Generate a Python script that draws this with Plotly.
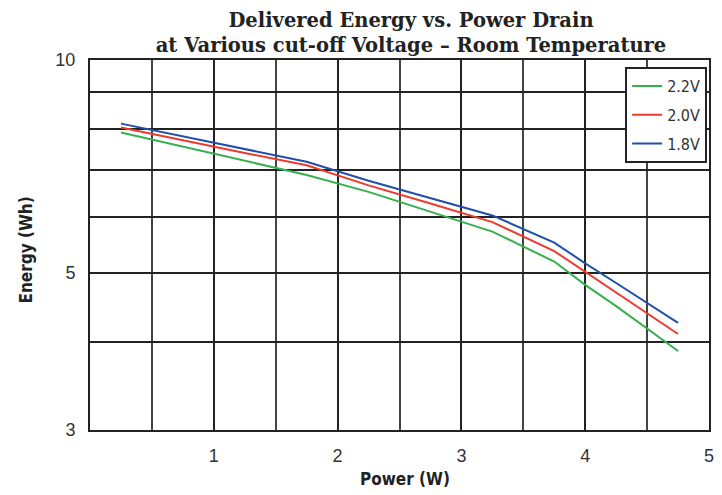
import plotly.graph_objects as go

power_w = [0.25, 0.75, 1.25, 1.75, 2.25, 2.75, 3.25, 3.75, 4.0, 4.25, 4.75]
energy_22v = [7.90, 7.54, 7.20, 6.88, 6.51, 6.11, 5.72, 5.19, 4.81, 4.49, 3.88]
energy_20v = [8.03, 7.70, 7.39, 7.10, 6.65, 6.27, 5.90, 5.37, 5.02, 4.69, 4.10]
energy_18v = [8.13, 7.80, 7.48, 7.18, 6.75, 6.38, 6.03, 5.52, 5.16, 4.84, 4.25]
series_names = ["2.2V", "2.0V", "1.8V"]
series_colors = ["#35b04f", "#ee3a2c", "#1f50a8"]

x_tick_vals = [1, 2, 3, 4, 5]
y_grid_vals = [3, 4, 5, 6, 7, 8, 9, 10]
y_tick_text = ["3", "", "5", "", "", "", "", "10"]

fig = go.Figure()
for name, vals, col in zip(series_names, [energy_22v, energy_20v, energy_18v], series_colors):
    fig.add_trace(go.Scatter(x=power_w, y=vals, mode="lines", name=name,
                             legendgroup=name,
                             line=dict(color=col, width=2)))

narrow = "DejaVu Sans Condensed, Liberation Sans Narrow, Arial Narrow, Liberation Sans, sans-serif"

# page has an 8px body margin, so the figure is 8px smaller and offset
W, H = 714, 487
fig.update_layout(
    width=W, height=H,
    margin=dict(l=82, r=8, t=52, b=65),
    paper_bgcolor="white", plot_bgcolor="white",
    title=dict(text="<b>Delivered Energy vs. Power Drain<br>at Various cut-off Voltage – Room Temperature</b>",
               x=403/W, xanchor="center", xref="container",
               y=1 - 18.5/H, yanchor="middle", yref="container",
               font=dict(family="DejaVu Serif, serif", size=19.5, color="#222"),
               automargin=False),
    showlegend=True,
    legend=dict(x=0.997, xanchor="right", y=0.981, yanchor="top",
                bgcolor="white", bordercolor="#222", borderwidth=2,
                font=dict(family=narrow, size=16, color="#333"),
                traceorder="grouped", tracegroupgap=5),
    xaxis=dict(range=[0, 5], tickmode="array", tickvals=x_tick_vals,
               showgrid=True, gridcolor="#222", gridwidth=2,
               minor=dict(dtick=0.5, showgrid=True, gridcolor="#444", gridwidth=2),
               showline=True, linecolor="#222", linewidth=2, mirror=True,
               ticks="", ticklabelstandoff=8, zeroline=False,
               tickfont=dict(family="Liberation Sans, Arial, sans-serif", size=18, color="#333")),
    yaxis=dict(type="log", range=[0.47712, 1.0], tickmode="array",
               tickvals=y_grid_vals, ticktext=y_tick_text,
               showgrid=True, gridcolor="#222", gridwidth=2,
               showline=True, linecolor="#222", linewidth=2, mirror=True,
               ticks="", ticklabelstandoff=9, zeroline=False,
               tickfont=dict(family="Liberation Sans, Arial, sans-serif", size=18, color="#333")),
    annotations=[
        dict(text="<b>Energy (Wh)</b>", xref="paper", yref="paper",
             x=(25 - 90) / 624, y=(430 - 250) / 370, xanchor="center", yanchor="middle",
             textangle=-90, showarrow=False,
             font=dict(family=narrow, size=17, color="#222")),
        dict(text="<b>Power (W)</b>", xref="paper", yref="paper",
             x=(408 - 90) / 624, y=(430 - 479) / 370, xanchor="center", yanchor="middle",
             showarrow=False,
             font=dict(family=narrow, size=17, color="#222")),
    ],
)

fig.write_html("out.html")
